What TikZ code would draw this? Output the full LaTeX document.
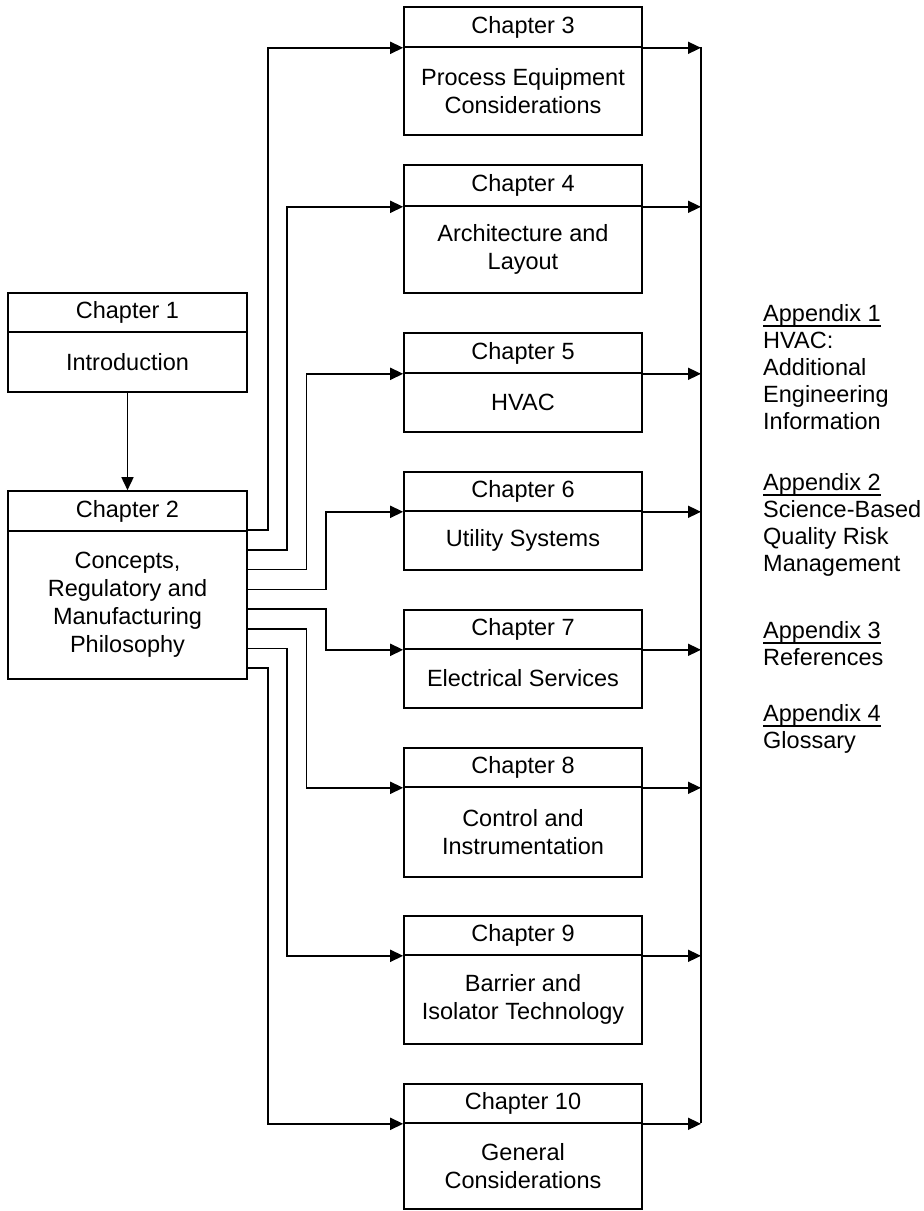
\documentclass[tikz,border=0pt]{standalone}
\usepackage{fontspec}
\setmainfont{Liberation Sans}
\usetikzlibrary{arrows.meta,calc}
\begin{document}
\begin{tikzpicture}[x=1pt,y=-1pt,
  every node/.style={font=\fontsize{23.5}{28}\selectfont},
  head/.style={draw, line width=1.6pt, minimum width=238pt, minimum height=40pt, inner sep=0pt},
  body/.style={draw, line width=1.6pt, minimum width=238pt, inner sep=0pt, align=center},
  link/.style={line width=1.6pt, -{Triangle[length=13pt,width=12pt]}},
  wire/.style={line width=1.6pt},
  apx/.style={anchor=base west, inner sep=0pt},
  uline/.style={line width=1.4pt}]
\useasboundingbox (0,0) rectangle (924,1211);

% left column
\node[head, minimum width=239pt, minimum height=39pt] (c1) at (127.5,312.5) {Chapter 1};
\node[body, minimum width=239pt, minimum height=60pt] (b1) at (127.5,362) {Introduction};
\node[head, minimum width=239pt] (c2) at (127.5,511) {Chapter 2};
\node[body, minimum width=239pt, minimum height=148pt] (b2) at (127.5,605) {Concepts,\\Regulatory and\\Manufacturing\\Philosophy};

% right column
\node[head] (c3) at (523,27) {Chapter 3};
\node[body, minimum height=88pt] (b3) at (523,91) {Process Equipment\\Considerations};
\node[head, minimum height=41pt] (c4) at (523,185.5) {Chapter 4};
\node[body, minimum height=87pt] (b4) at (523,249.5) {Architecture and\\Layout};
\node[head] (c5) at (523,353) {Chapter 5};
\node[body, minimum height=59pt] (b5) at (523,402.5) {HVAC};
\node[head, minimum height=39pt] (c6) at (523,491.5) {Chapter 6};
\node[body, minimum height=59pt] (b6) at (523,540.5) {Utility Systems};
\node[head, minimum height=39pt] (c7) at (523,629.5) {Chapter 7};
\node[body, minimum height=59pt] (b7) at (523,678.5) {Electrical Services};
\node[head, minimum height=39pt] (c8) at (523,767.5) {Chapter 8};
\node[body, minimum height=90pt] (b8) at (523,832) {Control and\\Instrumentation};
\node[head, minimum height=39pt] (c9) at (523,935.5) {Chapter 9};
\node[body, minimum height=89pt] (b9) at (523,999.5) {Barrier and\\Isolator Technology};
\node[head, minimum height=39pt] (c10) at (523,1103.5) {Chapter 10};
\node[body, minimum height=86pt] (b10) at (523,1166) {General\\Considerations};

% chapter 1 feeds chapter 2
\draw[link] (b1.south) -- (c2.north);

% chapter 2 fans out to chapters 3-10
\draw[link] (b2.north east) -- ++(20,0) |- (c3.south west);
\draw[link] ($(b2.north east)+(0,19.7)$) -- ++(39,0) |- (c4.south west);
\draw[link] ($(b2.north east)+(0,39.4)$) -- ++(58.5,0) |- (c5.south west);
\draw[link] ($(b2.north east)+(0,59.1)$) -- ++(78,0) |- (c6.south west);
\draw[link] ($(b2.north east)+(0,78.8)$) -- ++(78,0) |- (c7.south west);
\draw[link] ($(b2.north east)+(0,98.5)$) -- ++(58.5,0) |- (c8.south west);
\draw[link] ($(b2.north east)+(0,118.2)$) -- ++(39,0) |- (c9.south west);
\draw[link] ($(b2.north east)+(0,137.9)$) -- ++(20,0) |- (c10.south west);

% collecting rail on the right
\coordinate (railtop) at (701,47);
\coordinate (railbot) at (701,1123);
\draw[wire] (railtop) -- (railbot);
\foreach \n in {3,...,10}
  \draw[link] (c\n.south east) -- (c\n.south east -| railtop);

% appendices
\node[apx] (h1) at (763,321) {Appendix 1};
\draw[uline] ($(h1.base west)+(0,5)$) -- ($(h1.base east)+(0,5)$);
\foreach \t [count=\i] in {HVAC:,Additional,Engineering,Information}
  \node[apx] (a1l\i) at (763,{321+27*\i}) {\t};

\node[apx] (h2) at (763,490) {Appendix 2};
\draw[uline] ($(h2.base west)+(0,5)$) -- ($(h2.base east)+(0,5)$);
\foreach \t [count=\i] in {Science-Based,Quality Risk,Management}
  \node[apx] (a2l\i) at (763,{490+27*\i}) {\t};

\node[apx] (h3) at (763,638) {Appendix 3};
\draw[uline] ($(h3.base west)+(0,5)$) -- ($(h3.base east)+(0,5)$);
\node[apx] (a3l1) at (763,665) {References};

\node[apx] (h4) at (763,721) {Appendix 4};
\draw[uline] ($(h4.base west)+(0,5)$) -- ($(h4.base east)+(0,5)$);
\node[apx] (a4l1) at (763,748) {Glossary};
\end{tikzpicture}
\end{document}
